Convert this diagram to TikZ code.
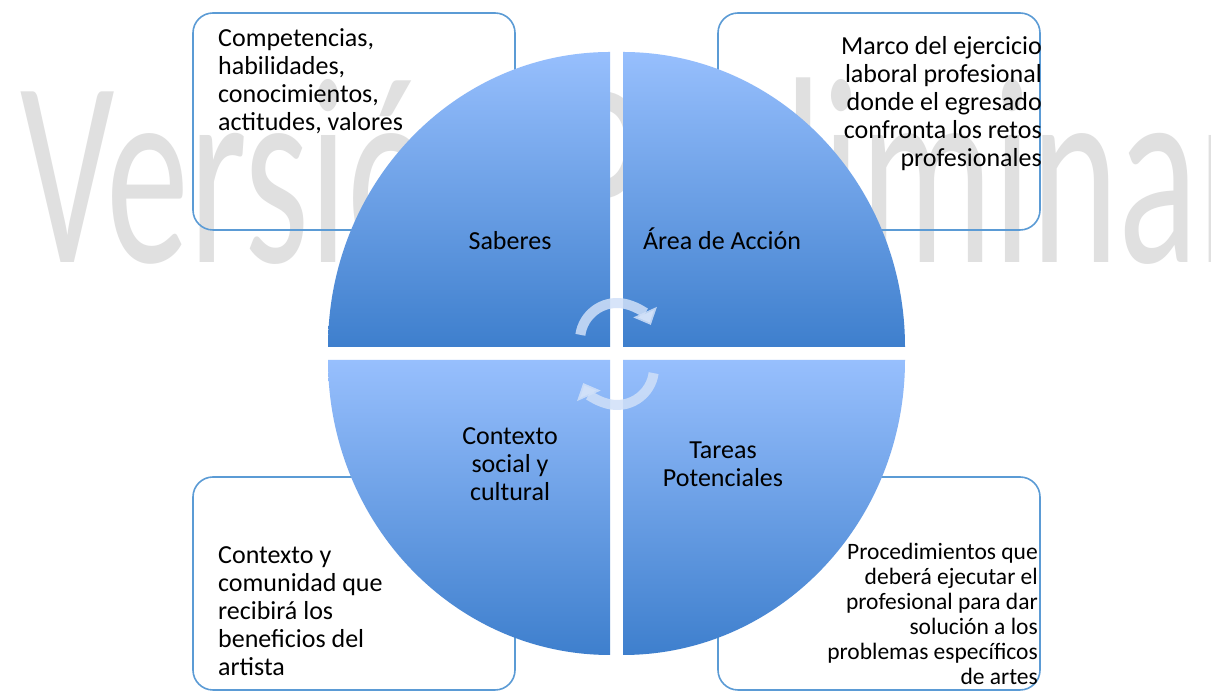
\documentclass[tikz,border=0pt]{standalone}
\usepackage{fontspec}
\setmainfont{Carlito}
\usetikzlibrary{arrows.meta}
\definecolor{wmgray}{RGB}{224,224,224}
\definecolor{qlight}{RGB}{151,191,253}
\definecolor{qdark}{RGB}{62,127,205}
\definecolor{boxblue}{RGB}{91,155,213}
\definecolor{arrowcol}{RGB}{208,224,248}
\newcommand{\mylines}[2]{\begin{tabular}[t]{@{}#1@{}}#2\end{tabular}}
\newcommand{\bigfont}{\fontsize{26}{28}\selectfont}
\newcommand{\smallfont}{\fontsize{23.5}{25}\selectfont}
\tikzset{
  infobox/.style={draw=boxblue, line width=1.6pt, rounded corners=20pt},
  quadtop/.style={top color=qlight, bottom color=qdark, draw=none},
  quadbot/.style={top color=qlight, bottom color=qdark, draw=none},
  txt/.style={inner sep=0pt, text=black},
  cyclearrow/.style={draw=arrowcol, draw opacity=0.85, line width=10pt,
    -{Triangle[length=14pt, width=25pt]}},
}
\begin{document}
\begin{tikzpicture}[x=1pt,y=1pt]
\useasboundingbox (0,0) rectangle (1211,692);
\clip (0,0) rectangle (1211,692);
\fill[white] (0,0) rectangle (1211,692);
% watermark
\node[anchor=base west, inner sep=0pt, xscale=0.625, text=wmgray] (wm) at (20,429)
  {\fontsize{266}{266}\selectfont Versión Preliminar};
% boxes
\draw[infobox] (193,462) rectangle (515,679);
\draw[infobox] (718,462) rectangle (1040,679);
\draw[infobox] (193,2) rectangle (515,215);
\draw[infobox] (718,2) rectangle (1040,215);
% quadrants
\path[quadtop] (610,345) -- (610,640) arc[start angle=90, end angle=180, x radius=282, y radius=295] -- cycle;
\path[quadtop] (623,345) -- (905,345) arc[start angle=0, end angle=90, x radius=282, y radius=295] -- cycle;
\path[quadbot] (610,332) -- (328,332) arc[start angle=180, end angle=270, x radius=282, y radius=295] -- cycle;
\path[quadbot] (623,332) -- (623,37) arc[start angle=270, end angle=360, x radius=282, y radius=295] -- cycle;
% cycle arrows
\coordinate (ctop) at (617,352);
\coordinate (cbot) at (617,324);
\draw[cyclearrow] ([shift={(172:37)}]ctop) arc[start angle=172, end angle=24, radius=37];
\draw[cyclearrow] ([shift={(-8:37)}]cbot) arc[start angle=-8, end angle=-156, radius=37];
% quadrant labels
\node[txt, anchor=base] (sab) at (510,442) {\bigfont Saberes};
\node[txt, anchor=base] (area) at (722,442) {\bigfont Área de Acción};
\node[txt, anchor=base] (ctx) at (510,247) {\bigfont\mylines{c}{Contexto\\social y\\cultural}};
\node[txt, anchor=base] (tar) at (723,233) {\bigfont\mylines{c}{Tareas\\Potenciales}};
% box texts
\node[txt, anchor=base west] (t1) at (218,645) {\bigfont\mylines{l}{Competencias,\\habilidades,\\conocimientos,\\actitudes, valores}};
\node[txt, anchor=base east] (t2) at (1042,637) {\bigfont\mylines{r}{Marco del ejercicio\\laboral profesional\\donde el egresado\\confronta los retos\\profesionales}};
\node[txt, anchor=base west] (t3) at (218,128) {\bigfont\mylines{l}{Contexto y\\comunidad que\\recibirá los\\beneficios del\\artista}};
\node[txt, anchor=base east] (t4) at (1038,132) {\smallfont\mylines{r}{Procedimientos que\\deberá ejecutar el\\profesional para dar\\solución a los\\problemas específicos\\de artes}};
\end{tikzpicture}
\end{document}
